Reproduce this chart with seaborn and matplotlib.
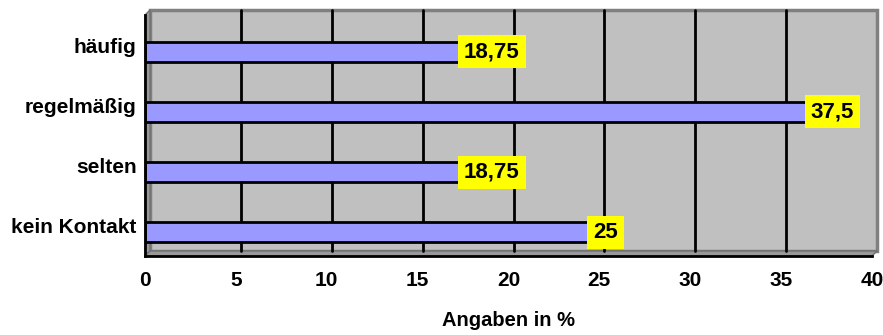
import matplotlib
matplotlib.use("Agg")
import matplotlib.pyplot as plt
import matplotlib.transforms as mtransforms
from matplotlib.patches import Rectangle, Polygon
import seaborn as sns

# data
categories = ["häufig", "regelmäßig", "selten", "kein Kontakt"]
values = [18.75, 37.5, 18.75, 25]
value_labels = ["18,75", "37,5", "18,75", "25"]
x_ticks = [0, 5, 10, 15, 20, 25, 30, 35, 40]

sns.set_style("white")
plt.rcParams["font.family"] = ["Liberation Sans", "DejaVu Sans"]
plt.rcParams["font.weight"] = "bold"
for key in ["text.color", "axes.labelcolor", "xtick.color", "ytick.color"]:
    plt.rcParams[key] = "black"

W, H = 883, 335
fig = plt.figure(figsize=(W / 100, H / 100), dpi=100)
ax = fig.add_axes([145 / W, (H - 256) / H, 727 / W, 241 / H])
ax.set_facecolor("none")

px = 1 / 100.0
depth = mtransforms.ScaledTranslation(5 * px, 5 * px, fig.dpi_scale_trans)
bar_shift = mtransforms.ScaledTranslation(0, -6.5 * px, fig.dpi_scale_trans)
label_shift = mtransforms.ScaledTranslation(6 * px, -6.5 * px, fig.dpi_scale_trans)

# 3D-look back wall, left wall and floor
dx, dy = 5 / 727, 5 / 241
ax.add_patch(Rectangle((0, 0), 1, 1, transform=ax.transAxes + depth,
                       facecolor="#C0C0C0", edgecolor="#808080", lw=2.5,
                       zorder=0, clip_on=False))
ax.add_patch(Polygon([(0, 0), (dx, dy), (dx, 1 + dy), (0, 1)], closed=True,
                     transform=ax.transAxes, facecolor="#999999",
                     edgecolor="#707070", lw=1, zorder=0.2, clip_on=False))
ax.add_patch(Polygon([(0, 0), (1, 0), (1 + dx, dy), (dx, dy)], closed=True,
                     transform=ax.transAxes, facecolor="#999999",
                     edgecolor="#707070", lw=1, zorder=0.2, clip_on=False))

for xv in x_ticks[1:-1]:
    grid = ax.axvline(xv, color="black", lw=2, zorder=0.5)
    grid.set_transform(ax.get_xaxis_transform() + depth)
    grid.set_clip_on(False)

sns.barplot(x=values, y=categories, color="#9999FF", edgecolor="black",
            linewidth=2, width=0.33, saturation=1, orient="h", ax=ax, zorder=2)
for bar in ax.containers[0]:
    bar.set_transform(ax.transData + bar_shift)

for i, (v, lab) in enumerate(zip(values, value_labels)):
    ax.text(v, i, lab, ha="center", va="center", fontsize=16, fontweight="bold",
            zorder=3, transform=ax.transData + label_shift,
            bbox=dict(boxstyle="square,pad=0.27", facecolor="#FFFF00", edgecolor="none"))

ax.set_xlim(0, 40)
ax.set_ylim(3.5, -0.5)
ax.set_xticks(x_ticks)
ax.set_xticklabels([str(t) for t in x_ticks], fontsize=15, fontweight="bold")
ax.set_yticks(range(len(categories)))
ax.set_yticklabels(categories, fontsize=15, fontweight="bold")
ax.tick_params(axis="y", length=0, pad=6)
ax.set_yticks([-0.5, 0.5, 1.5, 2.5, 3.5], minor=True)
ax.tick_params(axis="y", which="minor", length=5, width=2, color="black", direction="out")
ax.tick_params(axis="x", length=5, width=2, color="black", direction="out", pad=6)

ax.set_xlabel("Angaben in %", fontsize=14.5, fontweight="bold", labelpad=15)
ax.set_ylabel("")

for side in ["left", "bottom"]:
    ax.spines[side].set_visible(True)
    ax.spines[side].set_color("black")
    ax.spines[side].set_linewidth(2)
    ax.spines[side].set_zorder(4)
ax.spines["top"].set_visible(False)
ax.spines["right"].set_visible(False)

fig.savefig("out.png", dpi=100)
